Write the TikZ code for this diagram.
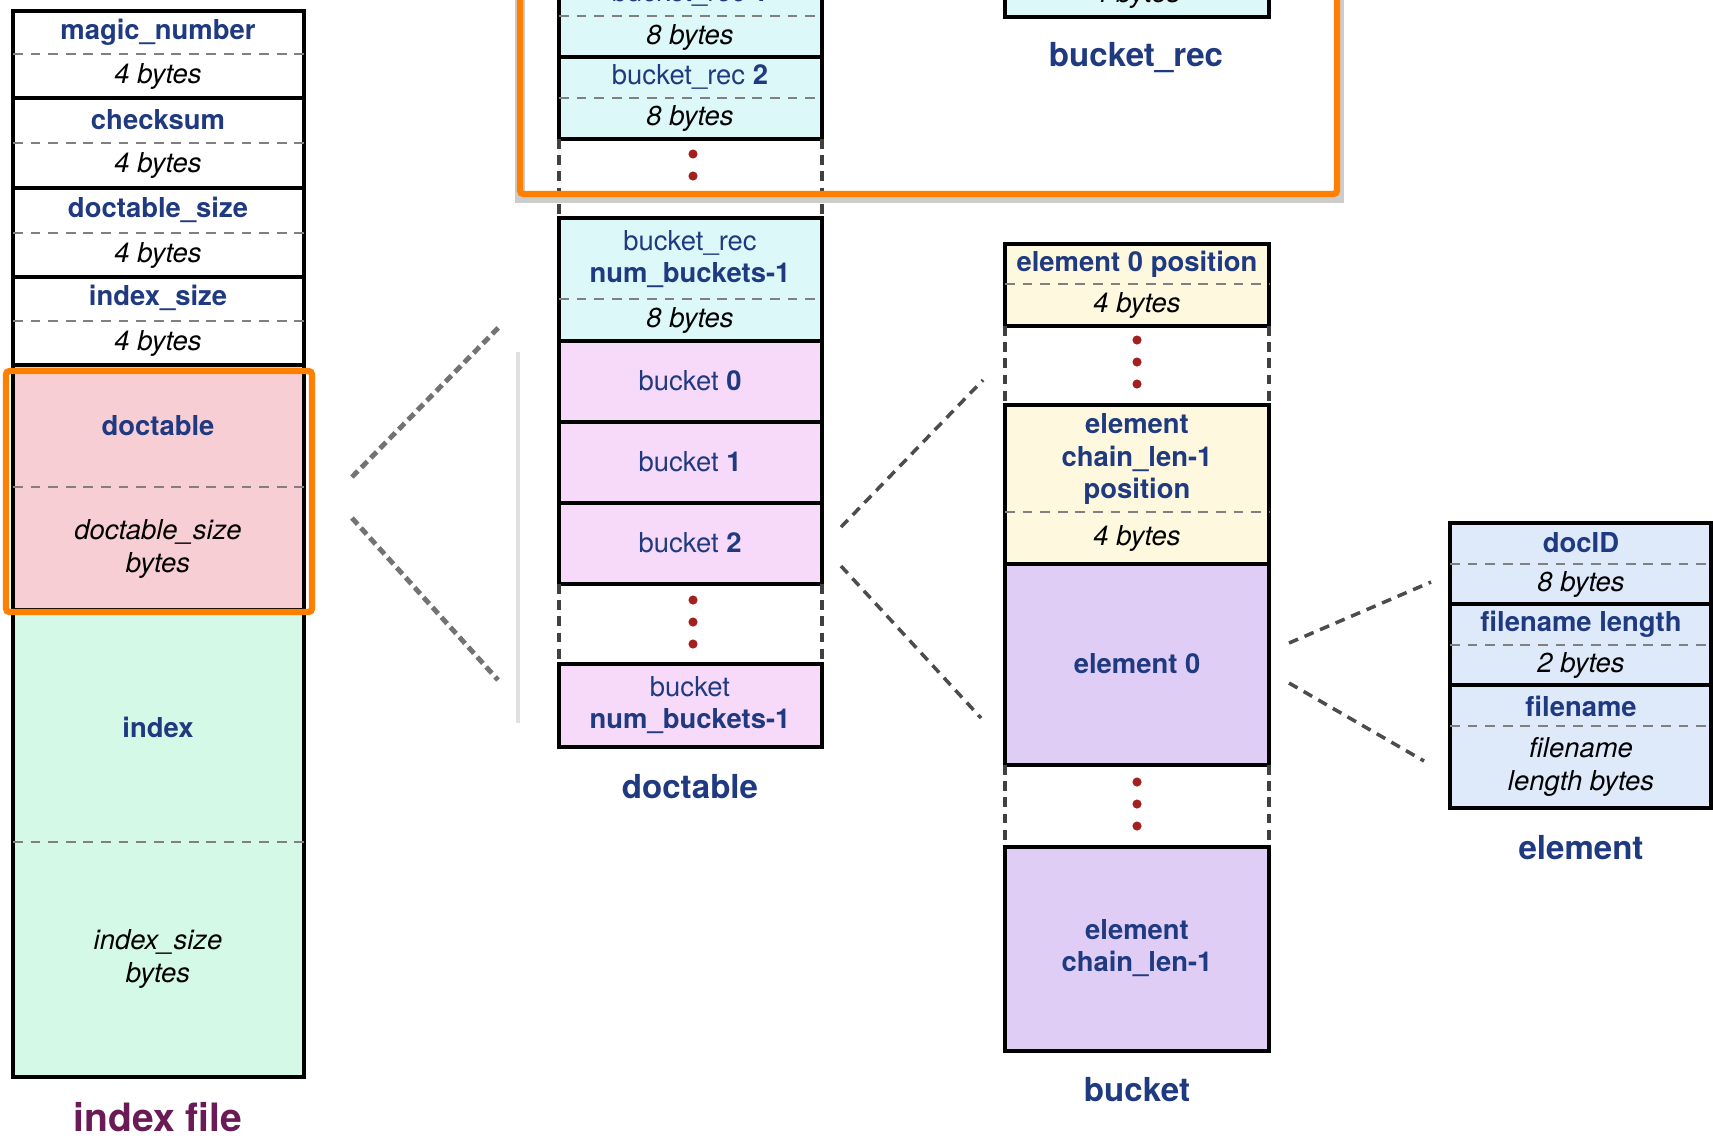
\documentclass[tikz,border=0pt]{standalone}
\usepackage{fontspec}
\setmainfont{TeX Gyre Heros}
\usetikzlibrary{calc}
\definecolor{navy}{HTML}{1F3A80}
\definecolor{filepurple}{HTML}{6A1B55}
\definecolor{hiorange}{HTML}{FF8000}
\definecolor{dotred}{HTML}{A3201E}
\definecolor{dtpink}{HTML}{F8CED5}
\definecolor{ixgreen}{HTML}{D4F9E6}
\definecolor{recblue}{HTML}{DDF8F9}
\definecolor{bktpink}{HTML}{F7DAF9}
\definecolor{posyellow}{HTML}{FEF8DE}
\definecolor{elemlilac}{HTML}{DFCDF6}
\definecolor{elblue}{HTML}{DEE9FA}
\tikzset{
	box/.style={draw=black, line width=1.1pt},
	sep/.style={draw=black!50, line width=0.6pt, dash pattern=on 2.8pt off 2.2pt},
	gapside/.style={draw=black!75, line width=1pt, dash pattern=on 2.8pt off 1.8pt},
	zoomline/.style={draw=black!70, line width=1pt, dash pattern=on 2.8pt off 2pt},
	zoomblur/.style={draw=black!55, line width=1.4pt, dash pattern=on 2.4pt off 1.4pt},
	hilite/.style={draw=hiorange, line width=1.8pt, rounded corners=1pt},
	lbl/.style={text=navy, font=\fontsize{7.8}{9.2}\selectfont\bfseries, align=center, inner sep=0pt},
	reg/.style={text=navy, font=\fontsize{7.8}{9.2}\selectfont, align=center, inner sep=0pt},
	sz/.style={text=black, font=\fontsize{7.8}{9.2}\selectfont\itshape, align=center, inner sep=0pt},
	ttl/.style={text=navy, font=\fontsize{9.4}{11}\selectfont\bfseries, inner sep=0pt},
	bigttl/.style={text=filepurple, font=\fontsize{11.1}{13}\selectfont\bfseries, inner sep=0pt}
}
\def\reddots(#1,#2){\foreach \k in {0,1,2} \fill[dotred] (#1,#2+\k*22) circle (1.3pt);}

\begin{document}
\begin{tikzpicture}[x=0.01cm,y=-0.01cm]
	%%%%% START %%%%%
	\useasboundingbox (0,0) rectangle (1713,1138);
	\clip (0,0) rectangle (1713,1138);
	
	% index file
	\draw[box] (13,11) rectangle (304,98);
	\draw[sep] (13,54) -- (304,54);
	\node[lbl] (magic) at (158,32) {magic\_number};
	\node[sz] (magicsz) at (158,76) {4 bytes};
	\draw[box] (13,98) rectangle (304,188);
	\draw[sep] (13,143) -- (304,143);
	\node[lbl] (chk) at (158,120) {checksum};
	\node[sz] (chksz) at (158,165) {4 bytes};
	\draw[box] (13,188) rectangle (304,277);
	\draw[sep] (13,233) -- (304,233);
	\node[lbl] (dtsize) at (158,210) {doctable\_size};
	\node[sz] (dtsizesz) at (158,255) {4 bytes};
	\draw[box] (13,277) rectangle (304,365);
	\draw[sep] (13,321) -- (304,321);
	\node[lbl] (ixsize) at (158,298) {index\_size};
	\node[sz] (ixsizesz) at (158,343) {4 bytes};
	\draw[box, fill=dtpink] (13,365) rectangle (304,610);
	\draw[sep] (13,487) -- (304,487);
	\node[lbl] (doct) at (158,426) {doctable};
	\node[sz] (doctsz) at (158,549) {doctable\_size\\bytes};
	\draw[box, fill=ixgreen] (13,610) rectangle (304,1077);
	\draw[sep] (13,842) -- (304,842);
	\node[lbl] (ix) at (158,727) {index};
	\node[sz] (ixsz) at (158,959) {index\_size\\bytes};
	\node[bigttl] (ixfile) at (158,1117) {index file};
	\draw[hilite] (6,371) rectangle (312,612);
	
	% doctable
	\draw[box, fill=recblue] (559,-25) rectangle (822,57);
	\draw[sep] (559,16) -- (822,16);
	\node[reg] (rec1) at (690,-6) {bucket\_rec \textbf{1}};
	\node[sz] (rec1sz) at (690,37) {8 bytes};
	\draw[box, fill=recblue] (559,57) rectangle (822,139);
	\draw[sep] (559,98) -- (822,98);
	\node[reg] (rec2) at (690,77) {bucket\_rec \textbf{2}};
	\node[sz] (rec2sz) at (690,118) {8 bytes};
	\draw[gapside] (559,139) -- (559,218) (822,139) -- (822,218);
	\reddots(693,154)
	\draw[box, fill=recblue] (559,218) rectangle (822,341);
	\draw[sep] (559,299) -- (822,299);
	\node[reg] (recn) at (690,259) {bucket\_rec\\\textbf{num\_buckets-1}};
	\node[sz] (recnsz) at (690,320) {8 bytes};
	\draw[box, fill=bktpink] (559,341) rectangle (822,422);
	\node[reg] (bkt0) at (690,381) {bucket \textbf{0}};
	\draw[box, fill=bktpink] (559,422) rectangle (822,503);
	\node[reg] (bkt1) at (690,462) {bucket \textbf{1}};
	\draw[box, fill=bktpink] (559,503) rectangle (822,584);
	\node[reg] (bkt2) at (690,543) {bucket \textbf{2}};
	\draw[gapside] (559,584) -- (559,664) (822,584) -- (822,664);
	\reddots(693,600)
	\draw[box, fill=bktpink] (559,664) rectangle (822,747);
	\node[reg] (bktn) at (690,705) {bucket\\\textbf{num\_buckets-1}};
	\node[ttl] (doctable) at (690,787) {doctable};
	
	% bucket_rec
	\draw[box, fill=recblue] (1005,-40) rectangle (1269,17);
	\node[sz] (recsz) at (1137,-5) {4 bytes};
	\node[ttl] (bucketrec) at (1136,58) {bucket\_rec};
	\draw[black!20, line width=3pt] (520,-16) rectangle (1339,198);
	\draw[hilite] (520,-20) rectangle (1337,194);
	
	% bucket
	\draw[box, fill=posyellow] (1005,244) rectangle (1269,326);
	\draw[sep] (1005,284) -- (1269,284);
	\node[lbl] (pos0) at (1137,264) {element 0 position};
	\node[sz] (pos0sz) at (1137,305) {4 bytes};
	\draw[gapside] (1005,326) -- (1005,405) (1269,326) -- (1269,405);
	\reddots(1137,340)
	\draw[box, fill=posyellow] (1005,405) rectangle (1269,564);
	\draw[sep] (1005,512) -- (1269,512);
	\node[lbl] (posn) at (1137,459) {element\\chain\_len-1\\position};
	\node[sz] (posnsz) at (1137,538) {4 bytes};
	\draw[box, fill=elemlilac] (1005,564) rectangle (1269,765);
	\node[lbl] (elem0) at (1137,664) {element 0};
	\draw[gapside] (1005,765) -- (1005,847) (1269,765) -- (1269,847);
	\reddots(1137,782)
	\draw[box, fill=elemlilac] (1005,847) rectangle (1269,1051);
	\node[lbl] (elemn) at (1137,948) {element\\chain\_len-1};
	\node[ttl] (bucket) at (1137,1090) {bucket};
	
	% element
	\draw[box, fill=elblue] (1450,523) rectangle (1711,604);
	\draw[sep] (1450,564) -- (1711,564);
	\node[lbl] (docid) at (1581,543) {docID};
	\node[sz] (docidsz) at (1581,584) {8 bytes};
	\draw[box, fill=elblue] (1450,604) rectangle (1711,685);
	\draw[sep] (1450,645) -- (1711,645);
	\node[lbl] (fnlen) at (1581,624) {filename length};
	\node[sz] (fnlensz) at (1581,665) {2 bytes};
	\draw[box, fill=elblue] (1450,685) rectangle (1711,808);
	\draw[sep] (1450,726) -- (1711,726);
	\node[lbl] (fname) at (1581,706) {filename};
	\node[sz] (fnamesz) at (1581,767) {filename\\length bytes};
	\node[ttl] (element) at (1581,848) {element};
	
	% zoom lines
	\coordinate (dtA) at (352,477);
	\coordinate (dtB) at (500,326);
	\coordinate (dtC) at (352,518);
	\coordinate (dtD) at (498,680);
	\draw[zoomblur] (dtA) -- (dtB) (dtC) -- (dtD);
	\draw[black!12, line width=1pt] (518,352) -- (518,723);
	\coordinate (bkA) at (841,527);
	\coordinate (bkB) at (983,380);
	\coordinate (bkC) at (841,566);
	\coordinate (bkD) at (981,718);
	\draw[zoomline] (bkA) -- (bkB) (bkC) -- (bkD);
	\coordinate (elA) at (1289,643);
	\coordinate (elB) at (1431,582);
	\coordinate (elC) at (1289,683);
	\coordinate (elD) at (1424,761);
	\draw[zoomline] (elA) -- (elB) (elC) -- (elD);
	
	%%%%% END %%%%%
\end{tikzpicture}
\end{document}
